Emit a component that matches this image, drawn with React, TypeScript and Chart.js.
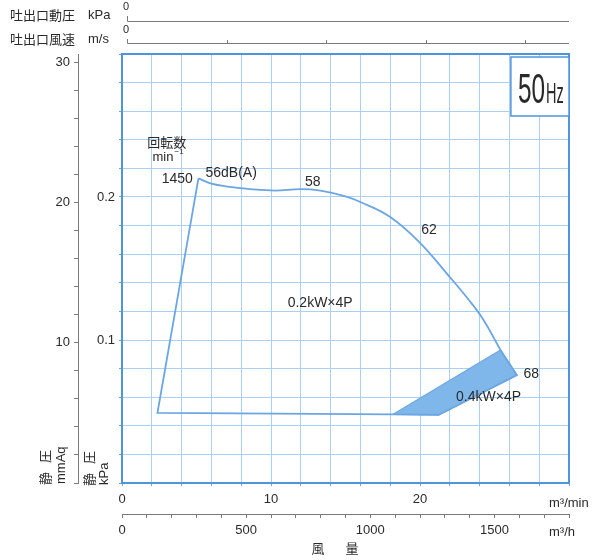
import React, { useEffect, useRef } from "react";
import { Chart, registerables } from "chart.js";

Chart.register(...registerables);

const LATIN = "'Liberation Sans', Arial, sans-serif";
const CJK = "'Noto Sans CJK JP', 'Noto Sans CJK SC', sans-serif";

// Fan operating curve at 1450 min^-1 (flow m³/min, static pressure kPa)
const curveFlow = [5.13, 5.94, 6.95, 8.62, 10.29, 11.97, 13.32, 15.0, 16.0, 18.0, 20.0, 22.0, 23.2, 24.2, 25.4];
const curvePressure = [0.213, 0.2095, 0.2075, 0.2055, 0.2045, 0.2055, 0.2045, 0.2005, 0.1965, 0.186, 0.168, 0.144, 0.129, 0.115, 0.093];

// Straight boundary of the envelope: curve end -> 68 point -> bottom -> left -> 1450 point
const edgeFlow = [25.4, 26.5, 21.25, 18.2, 2.38, 5.13];
const edgePressure = [0.093, 0.0755, 0.0476, 0.048, 0.049, 0.213];

// 0.4kW×4P shaded region
const motorFlow = [18.2, 25.4, 26.5, 21.25, 18.2];
const motorPressure = [0.048, 0.093, 0.0755, 0.0476, 0.048];

// Tick labels
const flowMinLabels = [0, 10, 20];
const flowHourLabels = [0, 500, 1000, 1500];
const kpaLabels = [0.1, 0.2];
const mmAqLabels = [10, 20, 30];
const velocityTicks = [1, 2, 3, 4];

// Annotations
const noteText = ["1450", "56dB(A)", "58", "62", "68", "0.2kW×4P", "0.4kW×4P"];
const noteFlow = [4.75, 5.6, 12.8, 20.6, 26.95, 13.3, 24.6];
const notePressure = [0.2125, 0.2168, 0.2105, 0.177, 0.0762, 0.126, 0.06];
const noteAlign: CanvasTextAlign[] = ["right", "left", "center", "center", "left", "center", "center"];

const GRID = "#abd0f2";
const BORDER = "#4f95dc";
const LINE = "#6aa6e3";
const FILL = "#80b7ea";
const TEXT = "#2a2a2a";
const AXIS = "#7a7a7a";
const KPA_TO_MMAQ = 101.972;

const pts = (xs: number[], ys: number[]) => xs.map((x, i) => ({ x, y: ys[i] }));

const near = (v: number, list: number[]) => list.some((t) => Math.abs(t - v) < 1e-6);

const decor = {
  id: "decor",
  afterDraw(chart: any) {
    const { ctx, chartArea: a, scales } = chart;
    const sx = scales.x;
    const sy = scales.y;
    ctx.save();

    // plot frame
    ctx.strokeStyle = BORDER;
    ctx.lineWidth = 2;
    ctx.strokeRect(a.left, a.top, a.right - a.left, a.bottom - a.top);

    // 50Hz box
    const bx = sx.getPixelForValue(26.1);
    const by = a.top + 3;
    const bw = a.right - bx;
    const bh = 59;
    ctx.fillStyle = "#ffffff";
    ctx.fillRect(bx, by, bw, bh);
    ctx.strokeStyle = BORDER;
    ctx.lineWidth = 1.5;
    ctx.strokeRect(bx, by, bw, bh);
    ctx.fillStyle = TEXT;
    ctx.textBaseline = "alphabetic";
    ctx.textAlign = "left";
    ctx.save();
    ctx.translate(bx + 7, by + 46);
    ctx.scale(0.58, 1);
    ctx.font = `42px ${LATIN}`;
    ctx.fillText("50", 0, 0);
    const w50 = ctx.measureText("50").width;
    ctx.restore();
    ctx.save();
    ctx.translate(bx + 7 + w50 * 0.58 + 1, by + 46);
    ctx.scale(0.5, 1);
    ctx.font = `29px ${LATIN}`;
    ctx.fillText("Hz", 0, 0);
    ctx.restore();

    // annotations in plot
    ctx.fillStyle = TEXT;
    ctx.textBaseline = "middle";
    noteText.forEach((t, i) => {
      ctx.textAlign = noteAlign[i];
      ctx.font = `14px ${LATIN}`;
      ctx.fillText(t, sx.getPixelForValue(noteFlow[i]), sy.getPixelForValue(notePressure[i]));
    });
    // 回転数 min-1
    ctx.textAlign = "left";
    ctx.font = `13px ${CJK}`;
    ctx.fillText("回転数", sx.getPixelForValue(1.7), sy.getPixelForValue(0.2385));
    ctx.font = `13px ${LATIN}`;
    const mx = sx.getPixelForValue(2.05);
    const my = sy.getPixelForValue(0.228);
    ctx.fillText("min", mx, my);
    const mw = ctx.measureText("min").width;
    ctx.font = `8px ${LATIN}`;
    ctx.fillText("−1", mx + mw + 1, my - 5);

    // top rows: discharge dynamic pressure / velocity
    ctx.font = `13px ${CJK}`;
    ctx.textAlign = "left";
    ctx.fillText("吐出口動圧", 10, 15);
    ctx.fillText("吐出口風速", 10, 39);
    ctx.font = `13px ${LATIN}`;
    ctx.fillText("kPa", 88, 15);
    ctx.fillText("m/s", 88, 39);
    ctx.font = `11px ${LATIN}`;
    ctx.fillText("0", 123, 7);
    ctx.fillText("0", 123, 30);
    ctx.strokeStyle = AXIS;
    ctx.lineWidth = 1;
    ctx.beginPath();
    ctx.moveTo(127.5, 16);
    ctx.lineTo(127.5, 21.5);
    ctx.lineTo(a.right, 21.5);
    ctx.moveTo(127.5, 39);
    ctx.lineTo(127.5, 43.5);
    ctx.lineTo(a.right, 43.5);
    velocityTicks.forEach((k) => {
      const px = Math.round(127 + k * 99.5) + 0.5;
      ctx.moveTo(px, 43.5);
      ctx.lineTo(px, 40);
    });
    ctx.stroke();

    // rotated axis titles
    const vText = (t: string, x: number, y: number, font: string) => {
      ctx.save();
      ctx.translate(x, y);
      ctx.rotate(-Math.PI / 2);
      ctx.font = font;
      ctx.textAlign = "left";
      ctx.textBaseline = "middle";
      ctx.fillText(t, 0, 0);
      ctx.restore();
    };
    vText("静", 45, 485, `13px ${CJK}`);
    vText("圧", 45, 463, `13px ${CJK}`);
    vText("mmAq", 61, 484, `13px ${LATIN}`);
    vText("静", 89, 486, `13px ${CJK}`);
    vText("圧", 89, 464, `13px ${CJK}`);
    vText("kPa", 104, 485, `13px ${LATIN}`);

    // bottom units
    ctx.textAlign = "left";
    ctx.textBaseline = "middle";
    ctx.font = `13px ${LATIN}`;
    ctx.fillText("m³/min", 549, 503);
    ctx.fillText("m³/h", 549, 532);
    ctx.textAlign = "center";
    ctx.font = `13px ${CJK}`;
    ctx.fillText("風", 318, 548);
    ctx.fillText("量", 352, 548);

    ctx.restore();
  },
};

export default function App() {
  const ref = useRef<HTMLCanvasElement>(null);
  useEffect(() => {
    const tickFont = { family: LATIN, size: 13 };
    const chart = new Chart(ref.current as HTMLCanvasElement, {
      type: "scatter",
      data: {
        datasets: [
          {
            data: pts(curveFlow, curvePressure),
            showLine: true,
            borderColor: LINE,
            borderWidth: 1.8,
            pointRadius: 0,
            tension: 0.4,
            fill: false,
            order: 1,
          } as any,
          {
            data: pts(edgeFlow, edgePressure),
            showLine: true,
            borderColor: LINE,
            borderWidth: 1.8,
            pointRadius: 0,
            tension: 0,
            fill: false,
            order: 1,
          } as any,
          {
            data: pts(motorFlow, motorPressure),
            showLine: true,
            borderColor: LINE,
            backgroundColor: FILL,
            borderWidth: 1.2,
            pointRadius: 0,
            tension: 0,
            fill: "shape",
            order: 3,
          } as any,
        ],
      },
      options: {
        responsive: false,
        animation: false,
        events: [],
        layout: { padding: { left: 0, right: 29, top: 54, bottom: 0 } },
        plugins: { legend: { display: false }, tooltip: { enabled: false } },
        scales: {
          x: {
            type: "linear",
            position: "bottom",
            min: 0,
            max: 30,
            weight: 0,
            afterFit: (s: any) => {
              s.height = 31;
            },
            ticks: {
              stepSize: 2,
              autoSkip: false,
              maxRotation: 0,
              includeBounds: false,
              padding: 6,
              color: TEXT,
              font: tickFont,
              callback: (v: any) => (near(Number(v), flowMinLabels) ? String(Math.round(Number(v))) : ""),
            },
            grid: { color: GRID, lineWidth: 1, drawTicks: true, tickLength: 3, tickColor: LINE },
            border: { color: BORDER, width: 2 },
          },
          x2: {
            type: "linear",
            position: "bottom",
            min: 0,
            max: 1800,
            weight: 1,
            afterFit: (s: any) => {
              s.height = 46;
            },
            ticks: {
              stepSize: 100,
              autoSkip: false,
              maxRotation: 0,
              includeBounds: false,
              padding: 5,
              color: TEXT,
              font: tickFont,
              callback: (v: any) => (near(Number(v), flowHourLabels) ? String(Math.round(Number(v))) : ""),
            },
            grid: { drawOnChartArea: false, drawTicks: true, tickLength: 4, tickColor: AXIS },
            border: { color: AXIS, width: 1 },
          },
          y: {
            type: "linear",
            position: "left",
            min: 0,
            max: 0.3,
            weight: 0,
            afterFit: (s: any) => {
              s.width = 44;
            },
            ticks: {
              stepSize: 0.02,
              autoSkip: false,
              includeBounds: false,
              padding: 4,
              color: TEXT,
              font: tickFont,
              callback: (v: any) => (near(Number(v), kpaLabels) ? Number(v).toFixed(1) : ""),
            },
            grid: { color: GRID, lineWidth: 1, drawTicks: true, tickLength: 3, tickColor: LINE },
            border: { color: BORDER, width: 2 },
          },
          y2: {
            type: "linear",
            position: "left",
            min: 0,
            max: 0.3 * KPA_TO_MMAQ,
            weight: 1,
            afterFit: (s: any) => {
              s.width = 78;
            },
            ticks: {
              stepSize: 2,
              autoSkip: false,
              includeBounds: false,
              padding: 4,
              color: TEXT,
              font: tickFont,
              callback: (v: any) => (near(Number(v), mmAqLabels) ? String(Math.round(Number(v))) : ""),
            },
            grid: { drawOnChartArea: false, drawTicks: true, tickLength: 4, tickColor: AXIS },
            border: { color: AXIS, width: 1 },
          },
        },
      } as any,
      plugins: [decor],
    });
    return () => chart.destroy();
  }, []);
  return (
    <canvas
      ref={ref}
      width={598}
      height={560}
      style={{ position: "absolute", left: 0, top: 0, width: 598, height: 560 }}
    />
  );
}
